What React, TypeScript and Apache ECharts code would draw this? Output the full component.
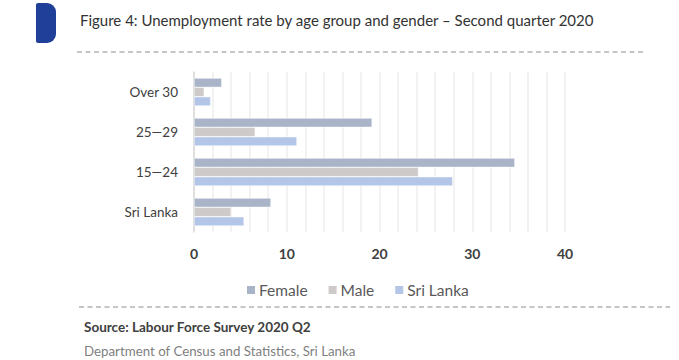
import React, { useEffect, useRef } from "react";
import * as echarts from "echarts";

const categories = ["Over 30", "25\u201429", "15\u201424", "Sri Lanka"];
const female = [3.0, 19.2, 34.6, 8.3];
const male = [1.1, 6.6, 24.2, 4.0];
const sriLanka = [1.8, 11.1, 27.9, 5.4];
const seriesNames = ["Female", "Male", "Sri Lanka"];
const colors = ["#aab4c8", "#cdcac9", "#b4c6e7"];

const FONT = "Lato, 'Open Sans', sans-serif";

export default function App() {
  const ref = useRef<HTMLDivElement>(null);
  useEffect(() => {
    if (!ref.current) return;
    const chart = echarts.init(ref.current, undefined, { renderer: "svg" });
    const data = [female, male, sriLanka];
    chart.setOption({
      animation: false,
      textStyle: { fontFamily: FONT },
      grid: { left: 194, right: 114, top: 72, bottom: 128, containLabel: false },
      legend: {
        data: seriesNames,
        top: 277,
        left: 240,
        itemWidth: 10,
        itemHeight: 10,
        itemGap: 19,
        icon: "rect",
        textStyle: { fontSize: 15.5, color: "#595959", fontFamily: FONT, padding: [0, 0, 0, -2] },
      },
      xAxis: {
        type: "value",
        min: 0,
        max: 40,
        interval: 2,
        axisLine: { show: false },
        axisTick: { show: false },
        axisLabel: {
          fontSize: 14,
          fontWeight: "bold",
          color: "#404040",
          margin: 14,
          formatter: (v: number) => (v % 10 === 0 ? String(v) : ""),
        },
        splitLine: { show: true, lineStyle: { color: "#eeeeee", width: 1.5 } },
      },
      yAxis: {
        type: "category",
        data: categories,
        inverse: true,
        axisLine: { show: true, lineStyle: { color: "#d9d9d9", width: 1.5 } },
        axisTick: { show: false },
        axisLabel: { fontSize: 13.5, color: "#404040", margin: 16 },
      },
      series: seriesNames.map((name, i) => ({
        name,
        type: "bar",
        data: data[i],
        barGap: "0%",
        barCategoryGap: "30%",
        itemStyle: { color: colors[i], borderColor: "#ffffff", borderWidth: 0.5 },
      })),
      graphic: [
        {
          type: "rect",
          shape: { x: 36, y: 3, width: 20, height: 40, r: [2, 9, 9, 2] },
          style: { fill: "#1f3f98" },
        },
        {
          type: "text",
          x: 80,
          y: 20,
          style: {
            text: "Figure 4: Unemployment rate by age group and gender \u2013 Second quarter 2020",
            fontSize: 15,
            fontFamily: FONT,
            fill: "#333333",
            verticalAlign: "middle",
          },
        },
        {
          type: "line",
          shape: { x1: 77, y1: 52, x2: 644, y2: 52 },
          style: { stroke: "#8c8c8c", lineWidth: 1, lineDash: [5, 3.5] },
        },
        {
          type: "line",
          shape: { x1: 79, y1: 307, x2: 670, y2: 307 },
          style: { stroke: "#8c8c8c", lineWidth: 1, lineDash: [5, 3.5] },
        },
        {
          type: "text",
          x: 84,
          y: 327,
          style: {
            text: "Source: Labour Force Survey 2020 Q2",
            fontSize: 13.5,
            fontWeight: "bold",
            fontFamily: FONT,
            fill: "#404040",
            verticalAlign: "middle",
          },
        },
        {
          type: "text",
          x: 84,
          y: 351,
          style: {
            text: "Department of Census and Statistics, Sri Lanka",
            fontSize: 13.3,
            fontFamily: FONT,
            fill: "#7f7f7f",
            verticalAlign: "middle",
          },
        },
      ],
    });
    return () => chart.dispose();
  }, []);
  return <div ref={ref} style={{ width: 679, height: 360, position: "absolute", left: 0, top: 0 }} />;
}
